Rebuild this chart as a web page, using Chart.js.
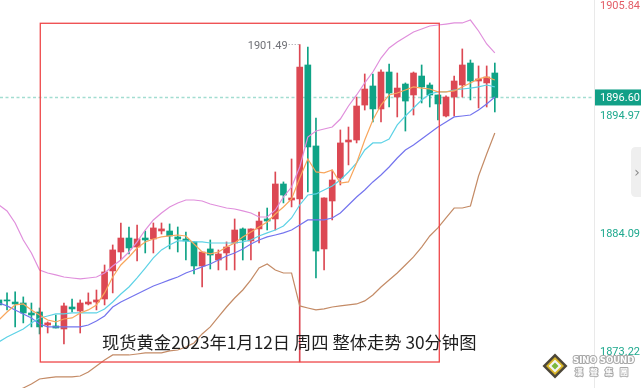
<!DOCTYPE html>
<html><head><meta charset="utf-8">
<script src="https://cdn.jsdelivr.net/npm/chart.js@4.4.1/dist/chart.umd.min.js"></script>
<style>html,body{margin:0;padding:0;background:#fff;overflow:hidden}canvas{display:block}</style>
</head><body>
<canvas id="c" width="641" height="388"></canvas>
<script>
// 30-minute candles (spot gold), oldest -> newest
const opens = [1877.90,1877.90,1877.71,1877.62,1876.70,1876.79,1875.59,1875.50,1875.22,1877.25,
1876.88,1877.53,1877.71,1877.99,1880.58,1882.33,1883.62,1882.79,1883.62,1883.53,
1884.27,1884.27,1883.72,1883.53,1883.26,1881.04,1882.61,1881.59,1882.24,1883.16,
1884.46,1883.35,1884.46,1885.38,1885.38,1888.61,1887.13,1887.23,1899.60,1892.12,
1882.61,1887.04,1889.16,1892.49,1892.67,1895.90,1897.66,1895.54,1898.95,1896.64,
1897.84,1896.83,1898.58,1897.75,1896.83,1894.89,1896.64,1897.75,1899.78,1898.12,
1897.94,1898.86];
const highs = [1878.27,1878.55,1878.64,1878.18,1877.62,1877.16,1875.87,1876.51,1877.62,1877.99,
1877.90,1878.55,1878.82,1881.13,1882.98,1885.01,1884.64,1884.82,1884.27,1885.01,
1885.01,1884.92,1884.64,1884.18,1883.26,1882.33,1883.44,1882.52,1883.26,1885.38,
1884.55,1884.46,1886.02,1886.39,1889.72,1888.80,1890.92,1901.49,1901.26,1894.70,
1887.32,1889.90,1893.60,1893.87,1896.64,1898.77,1898.77,1899.14,1899.69,1898.86,
1897.94,1898.95,1899.60,1897.94,1896.83,1896.74,1898.58,1901.08,1900.06,1899.51,
1899.51,1899.78];
const lows = [1876.98,1876.98,1875.41,1875.78,1875.41,1874.76,1874.85,1875.31,1873.84,1876.79,
1874.85,1877.44,1876.98,1877.44,1878.55,1881.59,1882.15,1881.50,1882.24,1882.24,
1883.99,1882.61,1882.33,1881.59,1880.30,1879.10,1880.76,1880.67,1880.67,1880.67,
1881.59,1881.59,1883.16,1884.36,1884.36,1886.86,1886.49,1872.17,1887.87,1879.93,
1880.67,1885.29,1888.52,1890.37,1892.40,1895.44,1894.34,1894.34,1895.72,1894.80,
1893.50,1894.98,1896.09,1895.72,1894.52,1894.80,1894.89,1896.64,1896.37,1895.63,
1895.72,1895.26];
const closes = [1877.44,1877.81,1877.53,1876.70,1876.51,1875.41,1875.78,1875.31,1877.35,1877.07,
1877.62,1877.71,1877.90,1880.49,1882.52,1883.62,1882.70,1883.53,1883.44,1884.55,
1884.46,1883.81,1883.53,1883.35,1881.04,1882.33,1882.05,1882.15,1882.79,1884.36,
1883.44,1884.46,1885.19,1885.19,1888.61,1887.59,1887.32,1899.41,1892.03,1882.42,
1887.32,1888.98,1892.40,1892.67,1895.81,1897.38,1895.54,1898.95,1897.01,1897.47,
1896.27,1898.86,1897.57,1896.83,1896.00,1896.64,1898.12,1899.60,1898.12,1898.31,
1898.49,1896.60];
// indicator lines
const maOrange = [1876.05,1876.79,1877.44,1877.53,1876.98,1876.51,1876.05,1875.87,1876.14,1876.24,
1876.70,1876.98,1877.44,1878.55,1880.02,1881.13,1881.87,1882.70,1883.26,1883.53,
1883.72,1883.81,1883.90,1883.81,1883.07,1882.33,1882.15,1882.33,1882.79,1883.16,
1883.72,1884.18,1884.64,1885.10,1885.84,1886.49,1887.23,1889.16,1890.92,1889.72,
1889.63,1889.90,1888.70,1888.80,1890.55,1892.67,1894.52,1895.90,1896.83,1897.01,
1897.29,1897.57,1897.47,1897.38,1897.11,1897.11,1897.20,1897.57,1897.94,1898.31,
1898.49,1898.21];
const maCyan = [1874.02,1874.48,1874.85,1875.22,1875.78,1876.24,1876.42,1876.61,1876.61,1876.70,
1876.70,1876.70,1876.70,1877.07,1877.71,1878.45,1879.10,1879.93,1880.85,1881.78,
1882.52,1882.98,1883.35,1883.35,1883.26,1883.26,1883.16,1883.16,1883.16,1883.16,
1883.26,1883.44,1883.81,1884.09,1884.36,1884.73,1885.47,1886.67,1887.59,1887.69,
1888.06,1888.43,1888.98,1889.72,1890.55,1891.75,1892.40,1892.40,1892.77,1894.06,
1894.89,1895.63,1896.37,1896.92,1897.11,1897.11,1897.29,1897.38,1897.47,1897.57,
1897.75,1897.57];
const maBlue = [1877.62,1877.35,1876.98,1876.61,1876.24,1875.68,1875.41,1875.41,1875.41,1875.41,
1875.41,1875.59,1875.96,1876.42,1877.25,1877.71,1878.08,1878.45,1878.82,1879.19,
1879.47,1879.75,1880.02,1880.39,1880.67,1880.95,1881.22,1881.59,1881.96,1882.24,
1882.61,1883.07,1883.44,1883.72,1883.90,1884.09,1884.36,1884.82,1885.29,1885.29,
1885.29,1885.47,1885.93,1886.67,1887.41,1888.06,1888.80,1889.44,1890.18,1891.01,
1891.75,1892.21,1892.77,1893.32,1893.87,1894.34,1894.80,1894.89,1894.98,1895.44,
1896.00,1896.64];
const bandUpper = [1886.67,1886.12,1885.01,1883.44,1882.24,1880.67,1880.39,1880.21,1880.02,1879.93,
1879.84,1879.93,1880.02,1880.39,1881.04,1881.59,1882.33,1883.26,1884.36,1885.29,
1885.93,1886.49,1886.86,1887.13,1887.13,1887.04,1886.76,1886.58,1886.39,1886.30,
1886.12,1885.93,1885.56,1885.56,1886.21,1887.41,1888.33,1890.18,1892.95,1893.50,
1893.69,1893.87,1894.61,1895.81,1896.83,1897.94,1898.95,1900.24,1901.17,1901.72,
1902.18,1902.65,1902.92,1903.20,1903.29,1903.38,1903.48,1903.48,1903.75,1902.74,
1901.54,1900.71];
const bandLower = [1868.67,1869.04,1869.40,1869.77,1870.14,1870.60,1870.70,1870.79,1870.79,1870.79,
1870.88,1871.25,1871.81,1872.36,1872.82,1872.82,1872.82,1872.91,1873.01,1873.01,
1873.01,1873.19,1873.28,1873.56,1873.93,1874.76,1875.41,1876.33,1877.25,1878.08,
1878.82,1879.75,1880.85,1881.22,1880.67,1880.39,1880.39,1877.35,1877.16,1876.98,
1877.07,1877.25,1877.35,1877.44,1877.53,1877.81,1878.36,1879.10,1879.75,1880.39,
1881.13,1881.87,1882.79,1883.81,1884.55,1885.47,1886.39,1886.39,1886.58,1889.35,
1891.38,1893.32];
const axisLabels = [1905.84, 1896.60, 1894.97, 1884.09, 1873.22];
const lastPrice = 1896.60;
const highMark = 1901.49;
const caption = "现货黄金2023年1月12日 周四 整体走势 30分钟图";

// annotation box in data coordinates (candle index, price)
const boxAnno = {x0: 5.09, x1: 54.17, top: 1903.45, bottom: 1872.17};

const UP = '#dc4853', DOWN = '#0fa386';
const idx = opens.map((_, i) => i);
const candleColors = idx.map(i => closes[i] >= opens[i] ? UP : DOWN);
const highIndex = highs.indexOf(highMark);

function lineDs(arr, color) {
  return {type: 'line', data: idx.map(i => ({x: i, y: arr[i]})), borderColor: color,
    borderWidth: 1.2, pointRadius: 0, tension: 0, fill: false, order: 1};
}

const overlay = {
  id: 'overlay',
  beforeDatasetsDraw(chart) {
    const {ctx, chartArea: a, scales: {y}} = chart;
    const py = Math.round(y.getPixelForValue(lastPrice)) + 0.5;
    ctx.save();
    ctx.strokeStyle = '#a3ddd1'; ctx.lineWidth = 1.6; ctx.setLineDash([3, 2.5]);
    ctx.beginPath(); ctx.moveTo(0, py); ctx.lineTo(a.right - 2, py); ctx.stroke();
    ctx.restore();
  },
  afterDatasetsDraw(chart) {
    const {ctx, scales: {x, y}} = chart;
    ctx.save();
    const l = x.getPixelForValue(boxAnno.x0), r = x.getPixelForValue(boxAnno.x1);
    const t = y.getPixelForValue(boxAnno.top), b = y.getPixelForValue(boxAnno.bottom);
    ctx.strokeStyle = '#ee4749'; ctx.lineWidth = 1.3;
    ctx.strokeRect(l, t, r - l, b - t);
    const hx = x.getPixelForValue(highIndex), hy = y.getPixelForValue(highMark);
    ctx.fillStyle = '#6f7076'; ctx.font = '11px Roboto';
    ctx.textAlign = 'right'; ctx.textBaseline = 'middle';
    ctx.fillText(highMark.toFixed(2), hx - 12, hy + 2);
    ctx.strokeStyle = '#9a9aa0'; ctx.lineWidth = 1; ctx.setLineDash([1, 2]);
    ctx.beginPath(); ctx.moveTo(hx - 11, hy); ctx.lineTo(hx - 1, hy); ctx.stroke();
    ctx.restore();
  },
  afterDraw(chart) {
    const {ctx, chartArea: a, scales: {y}} = chart;
    ctx.save();
    ctx.strokeStyle = '#e9e9e9'; ctx.lineWidth = 1;
    ctx.beginPath(); ctx.moveTo(a.right + 0.5, 0); ctx.lineTo(a.right + 0.5, 388); ctx.stroke();
    ctx.font = '11px Roboto'; ctx.textAlign = 'left'; ctx.textBaseline = 'middle';
    axisLabels.forEach(v => {
      const py = Math.max(6, y.getPixelForValue(v) + 1.3);
      if (v === lastPrice) {
        const cy = y.getPixelForValue(v);
        ctx.fillStyle = '#12a087';
        ctx.fillRect(a.right + 1, cy - 8, 641 - a.right, 16);
        ctx.fillStyle = '#ffffff';
        ctx.fillText(v.toFixed(2), a.right + 6, cy + 0.5);
        return;
      }
      ctx.fillStyle = v > lastPrice ? '#e35d66' : '#1ea98e';
      ctx.fillText(v.toFixed(2), a.right + 6, py);
    });
    ctx.fillStyle = '#efefef';
    ctx.beginPath();
    ctx.moveTo(641, 147); ctx.lineTo(636, 147); ctx.quadraticCurveTo(631, 147, 631, 152);
    ctx.lineTo(631, 192); ctx.quadraticCurveTo(631, 197, 636, 197); ctx.lineTo(641, 197); ctx.closePath();
    ctx.fill();
    ctx.fillStyle = '#8a8a8a'; ctx.font = '14px "DejaVu Sans"'; ctx.textAlign = 'center';
    ctx.fillText('›', 637, 173);
    ctx.fillStyle = '#1e1e1e'; ctx.font = '17.3px "Noto Sans CJK SC"';
    ctx.textAlign = 'left'; ctx.textBaseline = 'middle';
    ctx.fillText(caption, 102, 342);
    const cx = 555, cy = 366;
    const dia = (h, c) => { ctx.fillStyle = c; ctx.beginPath(); ctx.moveTo(cx, cy - h); ctx.lineTo(cx + h, cy);
      ctx.lineTo(cx, cy + h); ctx.lineTo(cx - h, cy); ctx.closePath(); ctx.fill(); };
    dia(12.5, '#4d4738'); dia(9, '#d9b526'); dia(6.5, '#f4f4f4'); dia(3.5, '#7bb83e');
    ctx.font = 'bold 9.5px "DejaVu Sans Condensed"'; ctx.textAlign = 'left';
    ctx.lineWidth = 2; ctx.strokeStyle = '#a8a8a8'; ctx.lineJoin = 'round';
    ctx.strokeText('SINO SOUND', 573, 361); ctx.fillStyle = '#ffffff'; ctx.fillText('SINO SOUND', 573, 361);
    ctx.font = 'bold 8px "Noto Sans CJK TC"';
    const chars = ['漢', '聲', '集', '團'];
    chars.forEach((c, i) => { ctx.strokeText(c, 575 + i * 15, 372); ctx.fillText(c, 575 + i * 15, 372); });
    ctx.restore();
  }
};

new Chart(document.getElementById('c'), {
  type: 'bar',
  data: {
    datasets: [
      lineDs(maOrange, '#f8a65c'),
      lineDs(maCyan, '#5dd2e6'),
      lineDs(maBlue, '#7474ee'),
      lineDs(bandUpper, '#e08fdc'),
      lineDs(bandLower, '#c48b66'),
      {type: 'bar', data: idx.map(i => ({x: i, y: [opens[i], closes[i]]})), backgroundColor: candleColors,
        barThickness: 6, minBarLength: 1, grouped: false, order: 2},
      {type: 'bar', data: idx.map(i => ({x: i, y: [lows[i], highs[i]]})), backgroundColor: candleColors,
        barThickness: 1, grouped: false, order: 3}
    ]
  },
  options: {
    responsive: false, animation: false, devicePixelRatio: 1,
    layout: {padding: {left: 0, right: 47, top: 0, bottom: 0}},
    plugins: {legend: {display: false}, tooltip: {enabled: false}},
    scales: {
      x: {type: 'linear', min: 0.1353, max: 73.20, display: false, offset: false},
      y: {type: 'linear', min: 1869.77, max: 1905.60, display: false}
    }
  },
  plugins: [overlay]
});
</script>
</body></html>
